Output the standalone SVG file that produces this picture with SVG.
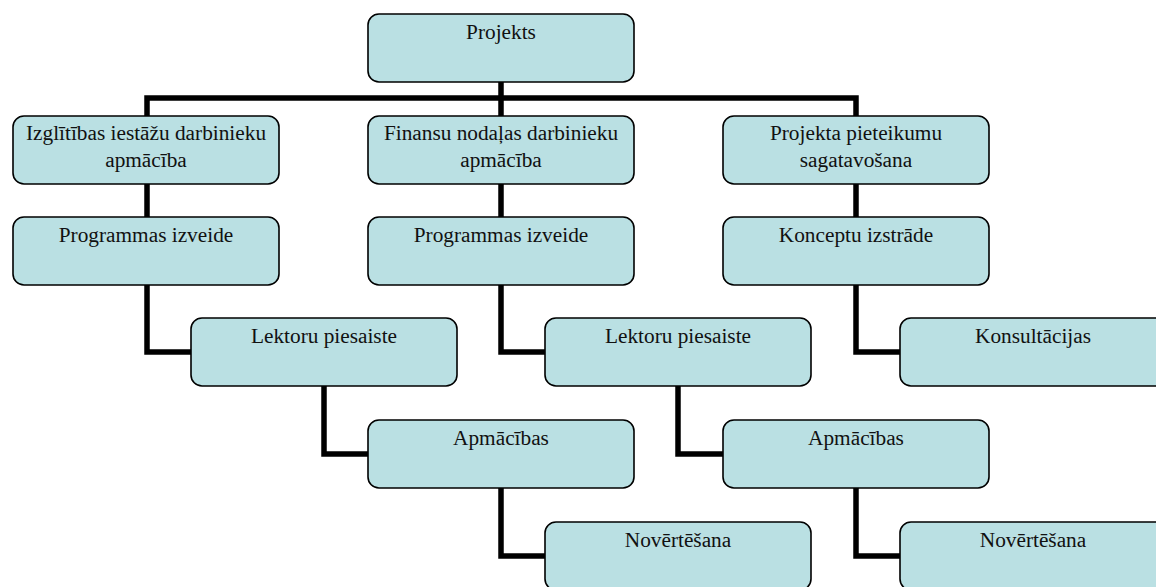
<svg xmlns="http://www.w3.org/2000/svg" width="1156" height="587" viewBox="0 0 1156 587">
<style>
.box{fill:#BAE0E3;stroke:#000;stroke-width:1.6}
.lbl{font-family:"Liberation Serif","Times New Roman",serif;font-size:21.3px;fill:#111;text-anchor:middle}
.conn{fill:none;stroke:#000;stroke-width:5.5;stroke-linejoin:miter}
</style>
<rect width="1156" height="587" fill="#fff"/>
<g id="connectors">
<path class="conn" d="M501 81V116M147 116V98H856V116"/>
<path class="conn" d="M147 183V217M501 183V217M856 183V217"/>
<path class="conn" d="M147 285V352H191M501 285V352H545M856 285V352H900"/>
<path class="conn" d="M324 386V454H368M678 386V454H723"/>
<path class="conn" d="M501 488V556H545M856 488V556H900"/>
</g>
<g id="n-projekts"><rect class="box" x="368" y="14" width="266" height="68" rx="11"/><text class="lbl" x="501" y="39">Projekts</text></g>
<g id="n-izgl"><rect class="box" x="13" y="116" width="266" height="68" rx="11"/><text class="lbl" x="146" y="140">Izglītības iestāžu darbinieku</text><text class="lbl" x="146" y="167">apmācība</text></g>
<g id="n-fin"><rect class="box" x="368" y="116" width="266" height="68" rx="11"/><text class="lbl" x="501" y="140">Finansu nodaļas darbinieku</text><text class="lbl" x="501" y="167">apmācība</text></g>
<g id="n-proj"><rect class="box" x="723" y="116" width="266" height="68" rx="11"/><text class="lbl" x="856" y="140">Projekta pieteikumu</text><text class="lbl" x="856" y="167">sagatavošana</text></g>
<g id="n-prog1"><rect class="box" x="13" y="217" width="266" height="68" rx="11"/><text class="lbl" x="146" y="242">Programmas izveide</text></g>
<g id="n-prog2"><rect class="box" x="368" y="217" width="266" height="68" rx="11"/><text class="lbl" x="501" y="242">Programmas izveide</text></g>
<g id="n-konc"><rect class="box" x="723" y="217" width="266" height="68" rx="11"/><text class="lbl" x="856" y="242">Konceptu izstrāde</text></g>
<g id="n-lek1"><rect class="box" x="191" y="318" width="266" height="68" rx="11"/><text class="lbl" x="324" y="343">Lektoru piesaiste</text></g>
<g id="n-lek2"><rect class="box" x="545" y="318" width="266" height="68" rx="11"/><text class="lbl" x="678" y="343">Lektoru piesaiste</text></g>
<g id="n-kons"><rect class="box" x="900" y="318" width="266" height="68" rx="11"/><text class="lbl" x="1033" y="343">Konsultācijas</text></g>
<g id="n-apm1"><rect class="box" x="368" y="420" width="266" height="68" rx="11"/><text class="lbl" x="501" y="445">Apmācības</text></g>
<g id="n-apm2"><rect class="box" x="723" y="420" width="266" height="68" rx="11"/><text class="lbl" x="856" y="445">Apmācības</text></g>
<g id="n-nov1"><rect class="box" x="545" y="522" width="266" height="68" rx="11"/><text class="lbl" x="678" y="547">Novērtēšana</text></g>
<g id="n-nov2"><rect class="box" x="900" y="522" width="266" height="68" rx="11"/><text class="lbl" x="1033" y="547">Novērtēšana</text></g>
</svg>
